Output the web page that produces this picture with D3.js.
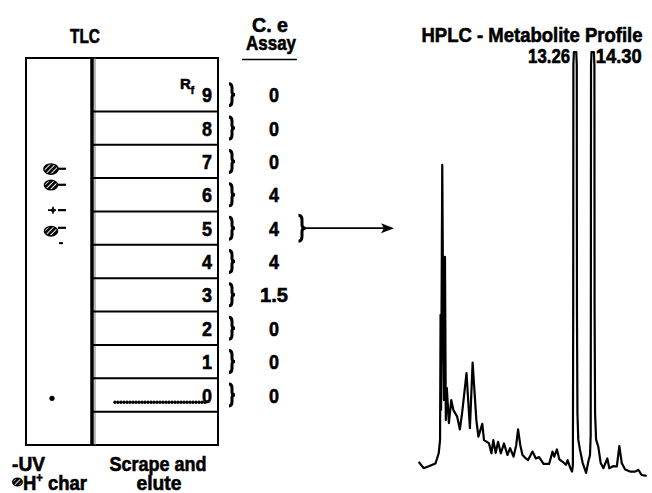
<!DOCTYPE html>
<html>
<head>
<meta charset="utf-8">
<script src="https://d3js.org/d3.v7.min.js"></script>
<style>
    body { margin: 0; background: #fff; }
    text {
        font-family: 'Liberation Sans', Arial, sans-serif;
        font-weight: bold;
        fill: #000;
        stroke: #000;
        stroke-width: 0.6px;
    }
</style>
</head>
<body>
<svg id="fig" width="652" height="493"></svg>
<script>
// TLC fractions (Rf bands, top to bottom) and the C. e assay of each scraped band
const fractions = ['9', '8', '7', '6', '5', '4', '3', '2', '1', '0']
const assayValues = [0, 0, 0, 4, 4, 4, 1.5, 0, 0, 0]
const pooledFraction = '5'   // band sent on to HPLC

// spots seen in the reference lane (plate units, 0 = bottom edge)
const charSpots = [8.27, 7.79, 6.41]
const traceSpots = [7.04]
const uvMarks = [8.28, 7.80, 7.04, 6.51]
const uvWeakMarks = [6.05]
const originSpot = 1.40
const originStreak = 1.28

// HPLC trace of the pooled band (time in min, signal in % of full scale)
const hplcTime = [4.04, 4.34, 4.67, 5.03, 5.22, 5.30, 5.33, 5.36, 5.43, 5.49,
    5.53, 5.59, 5.64, 5.70, 5.82, 5.96, 6.08, 6.31, 6.47, 6.61,
    6.86, 7.06, 7.22, 7.44, 7.56, 7.79, 7.89, 8.18, 8.33, 8.44,
    8.58, 8.72, 8.88, 9.07, 9.27, 9.43, 9.63, 9.79, 9.90, 10.03,
    10.16, 10.36, 10.49, 10.75, 10.95, 11.14, 11.40, 11.73, 11.93, 12.03,
    12.19, 12.33, 12.53, 12.72, 12.82, 12.98, 13.08, 13.13, 13.15, 13.16,
    13.19, 13.33, 13.36, 13.37, 13.40, 13.45, 13.55, 13.71, 13.91, 14.04,
    14.14, 14.18, 14.19, 14.20, 14.23, 14.37, 14.40, 14.41, 14.44, 14.50,
    14.63, 14.77, 14.93, 15.16, 15.28, 15.52, 15.72, 15.87, 16.01, 16.21,
    16.50, 16.80, 16.99, 17.19, 17.48]
const hplcSignal = [3.8, 2.3, 2.8, 3.4, 5.8, 8.9, 38.3, 16.0, 73.5, 34.7,
    18.3, 51.9, 13.6, 21.1, 12.9, 18.3, 16.0, 14.4, 11.4, 15.6,
    24.6, 11.7, 27.1, 13.6, 9.7, 12.7, 8.9, 8.2, 5.8, 8.9,
    5.9, 8.5, 5.8, 8.1, 5.4, 7.0, 5.0, 7.7, 11.4, 7.7,
    5.4, 4.6, 4.2, 6.2, 4.6, 4.9, 3.3, 3.3, 6.2, 5.0,
    6.7, 4.4, 3.8, 3.1, 4.2, 2.3, 1.5, 3, 40, 97,
    100, 100, 97, 40, 15, 9, 6.6, 3.5, 1.2, 3.8,
    5.4, 10, 40, 97, 100, 100, 97, 40, 15, 9,
    7.3, 3.5, 2.3, 4.6, 2.3, 2.8, 2.7, 7.5, 3.5, 2.0,
    1.5, 1.5, 1.9, 0.7, 0.5]
const peakLabels = [13.26, 14.30]

const svg = d3.select('#fig')

// condensed heavy lettering: squeeze text to the width it has in the figure
function label(xp, yp, str, size, width, anchor) {
    const t = svg.append('text')
        .attr('x', xp).attr('y', yp)
        .attr('text-anchor', anchor || 'start')
        .style('font-size', size + 'px')
        .text(str)
    if (width) t.attr('textLength', width).attr('lengthAdjust', 'spacingAndGlyphs')
    return t
}

// ---- TLC plate ----
const plate = {left: 26, divider: 92, right: 218, top: 58, bottom: 445}
const yPlate = d3.scaleLinear().domain([0, 11.6]).range([plate.bottom, plate.top])
const laneX = 51

const defs = svg.append('defs')
const pat = defs.append('pattern')
    .attr('id', 'hatch')
    .attr('patternUnits', 'userSpaceOnUse')
    .attr('width', 3.6).attr('height', 3.6)
    .attr('patternTransform', 'rotate(45)')
pat.append('rect').attr('width', 3.6).attr('height', 3.6).attr('fill', '#000')
pat.append('rect').attr('width', 1).attr('height', 3.6).attr('fill', '#fff')

label(85, 43, 'TLC', 20, 30, 'middle')

svg.append('rect')
    .attr('x', plate.left).attr('y', plate.top)
    .attr('width', plate.right - plate.left)
    .attr('height', plate.bottom - plate.top)
    .attr('fill', 'none').attr('stroke', '#000').attr('stroke-width', 2)

svg.append('line')
    .attr('x1', plate.divider).attr('x2', plate.divider)
    .attr('y1', plate.top).attr('y2', plate.bottom)
    .attr('stroke', '#000').attr('stroke-width', 3.5)
svg.append('line')
    .attr('x1', plate.divider + 3).attr('x2', plate.divider + 3)
    .attr('y1', plate.top).attr('y2', plate.bottom)
    .attr('stroke', '#777').attr('stroke-width', 1)

// band boundaries
svg.selectAll('.band')
    .data(d3.range(1, 11))
    .join('line')
    .attr('class', 'band')
    .attr('x1', plate.divider).attr('x2', plate.right)
    .attr('y1', d => yPlate(d)).attr('y2', d => yPlate(d))
    .attr('stroke', '#000').attr('stroke-width', 2)

const rows = fractions.map((f, i) => ({label: f, u: +f + 1.5, assay: assayValues[i]}))

svg.selectAll('.rowlabel')
    .data(rows)
    .join('text')
    .attr('class', 'rowlabel')
    .attr('x', plate.right - 6)
    .attr('y', d => yPlate(d.u))
    .attr('dy', '0.36em')
    .attr('text-anchor', 'end')
    .style('font-size', '21px')
    .attr('textLength', 10).attr('lengthAdjust', 'spacingAndGlyphs')
    .text(d => d.label)

// R_f header inside the top band
const rf = svg.append('text')
    .attr('x', 180).attr('y', 89)
    .style('font-size', '15px')
rf.append('tspan').text('R')
rf.append('tspan').attr('dy', 5).style('font-size', '10px').text('f')

function brace(cx, cy, w, h) {
    const x0 = cx - w / 2, x1 = cx, x2 = cx + w / 2
    const y0 = cy - h / 2, y1 = cy + h / 2
    const p = d3.path()
    p.moveTo(x0, y0)
    p.quadraticCurveTo(x1, y0, x1, y0 + h * 0.2)
    p.lineTo(x1, cy - h * 0.12)
    p.quadraticCurveTo(x1, cy, x2, cy)
    p.quadraticCurveTo(x1, cy, x1, cy + h * 0.12)
    p.lineTo(x1, y1 - h * 0.2)
    p.quadraticCurveTo(x1, y1, x0, y1)
    return p.toString()
}

svg.selectAll('.brace')
    .data(rows)
    .join('path')
    .attr('class', 'brace')
    .attr('d', d => brace(232, yPlate(d.u), 6, 22))
    .attr('fill', 'none').attr('stroke', '#000').attr('stroke-width', 3)

// assay column
label(270, 32, 'C. e', 20, 36, 'middle')
label(271, 50, 'Assay', 20, 50, 'middle')
svg.append('line')
    .attr('x1', 242).attr('x2', 297)
    .attr('y1', 59.5).attr('y2', 59.5)
    .attr('stroke', '#000').attr('stroke-width', 1.5)

svg.selectAll('.assay')
    .data(rows)
    .join('text')
    .attr('class', 'assay')
    .attr('x', 274)
    .attr('y', d => yPlate(d.u))
    .attr('dy', '0.36em')
    .attr('text-anchor', 'middle')
    .style('font-size', '21px')
    .attr('textLength', d => d.assay % 1 ? 28 : 10)
    .attr('lengthAdjust', 'spacingAndGlyphs')
    .text(d => String(d.assay))

// left lane: UV marks and H+ char spots
svg.selectAll('.charspot')
    .data(charSpots)
    .join('ellipse')
    .attr('class', 'charspot')
    .attr('cx', laneX).attr('cy', d => yPlate(d))
    .attr('rx', (d, i) => i === 0 ? 7.2 : 6.6).attr('ry', (d, i) => i === 0 ? 5.2 : 4.8)
    .attr('fill', 'url(#hatch)').attr('stroke', '#000').attr('stroke-width', 1.4)

traceSpots.forEach(u => {
    const cy = yPlate(u)
    svg.append('circle').attr('cx', laneX + 2).attr('cy', cy).attr('r', 2).attr('fill', '#000')
    svg.append('path')
        .attr('d', `M${laneX - 3},${cy}h8M${laneX + 2},${cy - 3.5}v7`)
        .attr('stroke', '#000').attr('stroke-width', 1.6)
})

svg.selectAll('.uv')
    .data(uvMarks)
    .join('line')
    .attr('class', 'uv')
    .attr('x1', laneX + 7).attr('x2', laneX + 15)
    .attr('y1', d => yPlate(d)).attr('y2', d => yPlate(d))
    .attr('stroke', '#000').attr('stroke-width', 2.2)

svg.selectAll('.uvweak')
    .data(uvWeakMarks)
    .join('line')
    .attr('class', 'uvweak')
    .attr('x1', laneX + 8).attr('x2', laneX + 12)
    .attr('y1', d => yPlate(d)).attr('y2', d => yPlate(d))
    .attr('stroke', '#000').attr('stroke-width', 2)

svg.append('circle')
    .attr('cx', laneX + 1).attr('cy', yPlate(originSpot))
    .attr('r', 2.6).attr('fill', '#000')

// scraped lane: origin streak
svg.selectAll('.streak')
    .data(d3.range(115, 208, 3))
    .join('circle')
    .attr('class', 'streak')
    .attr('cx', d => d).attr('cy', yPlate(originStreak))
    .attr('r', 1.7).attr('fill', '#000')

// bottom captions
label(12, 471, '-UV', 20, 33)
svg.append('ellipse')
    .attr('cx', 17.5).attr('cy', 482).attr('rx', 4.8).attr('ry', 3.8)
    .attr('fill', 'url(#hatch)').attr('stroke', '#000').attr('stroke-width', 1.4)
const hc = label(23, 490, '', 20, 64)
hc.append('tspan').text('H')
hc.append('tspan').attr('dy', -8).style('font-size', '12px').text('+')
hc.append('tspan').attr('dy', 8).text(' char')

label(158, 471, 'Scrape and', 20, 97, 'middle')
label(159, 490, 'elute', 20, 45, 'middle')

// pooled band -> HPLC arrow
const pooledY = yPlate(+pooledFraction + 1.5)
svg.append('path')
    .attr('d', brace(302, pooledY, 7, 26))
    .attr('fill', 'none').attr('stroke', '#000').attr('stroke-width', 3)
svg.append('line')
    .attr('x1', 305).attr('x2', 386)
    .attr('y1', pooledY).attr('y2', pooledY)
    .attr('stroke', '#000').attr('stroke-width', 1.6)
svg.append('path')
    .attr('d', `M381,${pooledY - 5}L394,${pooledY}L381,${pooledY + 5}L384,${pooledY}Z`)
    .attr('fill', '#000')

// ---- HPLC chromatogram ----
const x = d3.scaleLinear().domain([4, 17.5]).range([418, 647])
const y = d3.scaleLinear().domain([0, 100]).range([478, 52])

label(532, 42, 'HPLC - Metabolite Profile', 20, 221, 'middle')

const trace = d3.zip(hplcTime, hplcSignal)
svg.append('path')
    .datum(trace)
    .attr('fill', 'none')
    .attr('stroke', '#000')
    .attr('stroke-width', 2.2)
    .attr('stroke-linejoin', 'round')
    .attr('d', d3.line().x(d => x(d[0])).y(d => y(d[1])))

svg.selectAll('.peaklabel')
    .data(peakLabels)
    .join('text')
    .attr('class', 'peaklabel')
    .attr('x', (d, i) => i === 0 ? x(d) - 5 : x(d) + 3)
    .attr('y', 63)
    .attr('text-anchor', (d, i) => i === 0 ? 'end' : 'start')
    .style('font-size', '21px')
    .attr('textLength', (d, i) => i === 0 ? 42 : 46)
    .attr('lengthAdjust', 'spacingAndGlyphs')
    .text(d => d3.format('.2f')(d))
</script>
</body>
</html>
